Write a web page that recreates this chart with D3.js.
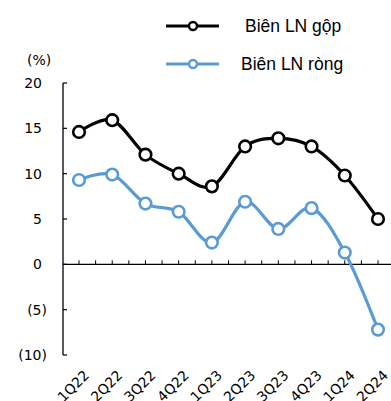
<!DOCTYPE html>
<html>
<head>
<meta charset="utf-8">
<script src="https://cdn.jsdelivr.net/npm/d3@7"></script>
<style>
  html, body { margin: 0; padding: 0; background: #fff; }
  svg { display: block; }
</style>
</head>
<body>
<svg id="chart" width="391" height="401"></svg>
<script>
// Quarterly margins (%)
const quarters = ["1Q22","2Q22","3Q22","4Q22","1Q23","2Q23","3Q23","4Q23","1Q24","2Q24"];
const grossMargin = [14.6, 15.9, 12.1, 10.0, 8.6, 13.0, 13.9, 13.0, 9.8, 5.0];
const netMargin = [9.3, 9.9, 6.7, 5.8, 2.4, 6.9, 3.9, 6.2, 1.3, -7.2];
const yTicks = [20, 15, 10, 5, 0, -5, -10];
const seriesNames = ["Biên LN gộp", "Biên LN ròng"];
const seriesColors = ["#000000", "#5B9BD5"];

const svg = d3.select("#chart");
const axisFont = "'DejaVu Sans', Verdana, sans-serif";
const legendFont = "'Liberation Sans', Arial, sans-serif";

const x = d3.scalePoint().domain(quarters).range([79, 378]);
const y = d3.scaleLinear().domain([-10, 20]).range([355, 83]);
const step = x.step();

// Left axis with inward ticks
svg.append("line")
  .attr("x1", 63).attr("x2", 63)
  .attr("y1", y(20)).attr("y2", y(-10))
  .attr("stroke", "#000").attr("stroke-width", 1.3);
svg.selectAll(".ytick").data(yTicks).enter().append("line")
  .attr("x1", 63).attr("x2", 67)
  .attr("y1", d => y(d)).attr("y2", d => y(d))
  .attr("stroke", "#000").attr("stroke-width", 1.2);

const fmt = d => d < 0 ? "(" + Math.abs(d) + ")" : String(d);
svg.selectAll(".ylab").data(yTicks).enter().append("text")
  .attr("x", d => d < 0 ? 47 : 42)
  .attr("y", d => y(d) + 5)
  .attr("text-anchor", "end")
  .attr("font-family", axisFont)
  .attr("font-size", 14)
  .attr("fill", "#000")
  .text(fmt);

svg.append("text")
  .attr("x", 27).attr("y", 65)
  .attr("font-family", axisFont)
  .attr("font-size", 14)
  .text("(%)");

// Zero line with category ticks
svg.append("line")
  .attr("x1", 63).attr("x2", 391)
  .attr("y1", y(0)).attr("y2", y(0))
  .attr("stroke", "#000").attr("stroke-width", 1.3);
const tickPos = [];
quarters.forEach((q, i) => {
  tickPos.push(x(q));
  if (i < quarters.length - 1) tickPos.push(x(q) + step / 2);
});
svg.selectAll(".xtick").data(tickPos).enter().append("line")
  .attr("x1", d => d).attr("x2", d => d)
  .attr("y1", y(0) - 4).attr("y2", y(0))
  .attr("stroke", "#000").attr("stroke-width", 1);

// Rotated quarter labels
svg.selectAll(".xlab").data(quarters).enter().append("text")
  .attr("transform", d => `translate(${x(d) + 4},${369}) rotate(-45)`)
  .attr("text-anchor", "end")
  .attr("dy", "0.72em")
  .attr("font-family", axisFont)
  .attr("font-size", 14)
  .text(d => d);

// Smoothed series lines with hollow markers
const line = d3.line()
  .x((d, i) => x(quarters[i]))
  .y(d => y(d))
  .curve(d3.curveCatmullRom.alpha(0));

[netMargin, grossMargin].forEach((vals) => {
  const idx = vals === grossMargin ? 0 : 1;
  const g = svg.append("g");
  g.append("path")
    .datum(vals)
    .attr("d", line)
    .attr("fill", "none")
    .attr("stroke", seriesColors[idx])
    .attr("stroke-width", 3.2)
    .attr("stroke-linejoin", "round");
  g.selectAll("circle").data(vals).enter().append("circle")
    .attr("cx", (d, i) => x(quarters[i]))
    .attr("cy", d => y(d))
    .attr("r", 5.8)
    .attr("fill", "#fff")
    .attr("stroke", seriesColors[idx])
    .attr("stroke-width", 2.6);
});

// Legend
const legendY = [26, 64];
seriesNames.forEach((name, i) => {
  const ly = legendY[i];
  svg.append("line")
    .attr("x1", 166).attr("x2", 219)
    .attr("y1", ly).attr("y2", ly)
    .attr("stroke", seriesColors[i]).attr("stroke-width", 3.2);
  svg.append("circle")
    .attr("cx", 193).attr("cy", ly).attr("r", 4)
    .attr("fill", "#fff")
    .attr("stroke", seriesColors[i]).attr("stroke-width", 2.4);
  svg.append("text")
    .attr("x", i === 0 ? 245 : 241)
    .attr("y", ly + 6)
    .attr("font-family", legendFont)
    .attr("font-size", 17.5)
    .attr("fill", "#000")
    .text(name);
});
</script>
</body>
</html>
